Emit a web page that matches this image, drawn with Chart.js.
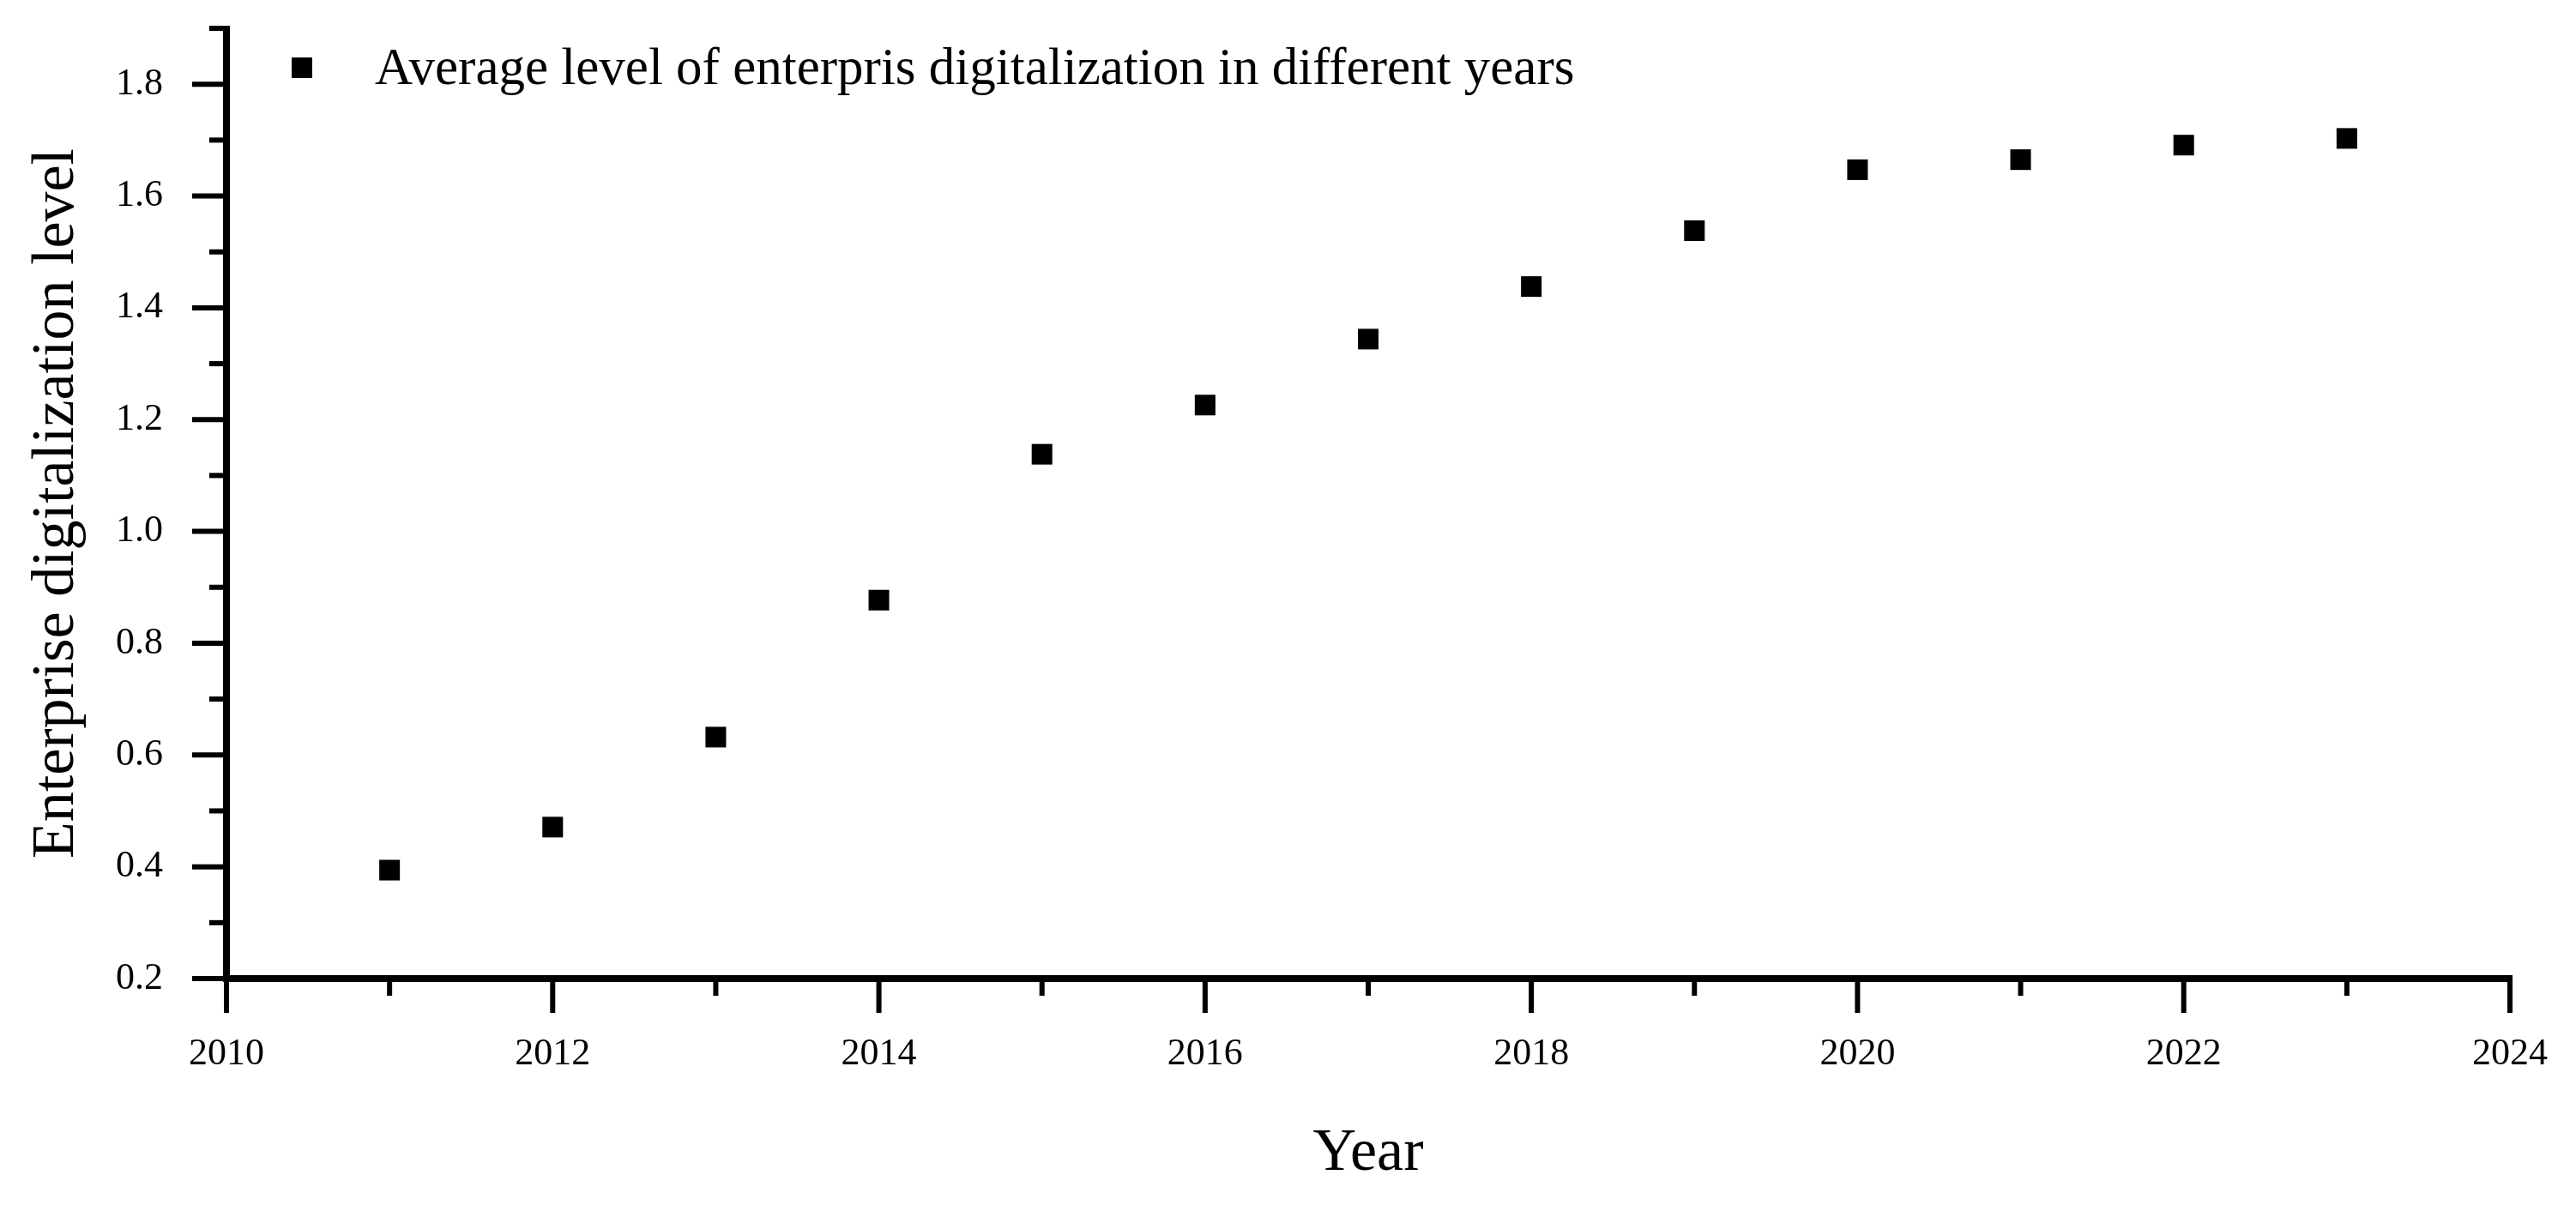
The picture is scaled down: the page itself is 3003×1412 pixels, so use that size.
<!DOCTYPE html>
<html>
<head>
<meta charset="utf-8">
<script src="https://cdn.jsdelivr.net/npm/chart.js@4/dist/chart.umd.min.js"></script>
<style>
  html, body { margin: 0; padding: 0; background: #fff; }
  #wrap { width: 3003px; height: 1412px; }
</style>
</head>
<body>
<div id="wrap"><canvas id="digital" width="3003" height="1412"></canvas></div>
<script>
const years = [2011, 2012, 2013, 2014, 2015, 2016, 2017, 2018, 2019, 2020, 2021, 2022, 2023];
const levels = [0.394, 0.471, 0.632, 0.877, 1.138, 1.226, 1.344, 1.438, 1.538, 1.647, 1.665, 1.691, 1.703];
const seriesLabel = "Average level of enterpris digitalization in different years";
const xTitle = "Year";
const yTitle = "Enterprise digitalization level";

const serif = "'Liberation Serif', 'Times New Roman', serif";

// draws the thick axis lines plus long/short tick marks
const axisPlugin = {
    id: "axisMarks",
    afterDraw(chart) {
        const ctx = chart.ctx;
        const area = chart.chartArea;
        const xs = chart.scales.x;
        const ys = chart.scales.y;
        ctx.save();
        ctx.strokeStyle = "#000";
        ctx.lineCap = "butt";

        ctx.lineWidth = 6;
        xs.ticks.forEach(t => {
            const px = xs.getPixelForValue(t.value);
            const len = Math.round(t.value) % 2 === 0 ? 40 : 20;
            ctx.beginPath();
            ctx.moveTo(px, area.bottom);
            ctx.lineTo(px, area.bottom + len);
            ctx.stroke();
        });
        ys.ticks.forEach(t => {
            const py = ys.getPixelForValue(t.value);
            const len = Math.round(t.value * 10) % 2 === 0 ? 40 : 20;
            ctx.beginPath();
            ctx.moveTo(area.left, py);
            ctx.lineTo(area.left - len, py);
            ctx.stroke();
        });

        ctx.lineWidth = 8;
        ctx.beginPath();
        ctx.moveTo(area.left, area.top - 3);
        ctx.lineTo(area.left, area.bottom + 4);
        ctx.moveTo(area.left - 4, area.bottom);
        ctx.lineTo(area.right + 3, area.bottom);
        ctx.stroke();

        // legend inside the plot
        const ds = chart.data.datasets[0];
        const lx = area.left + 88;
        const ly = area.top + 46;
        ctx.fillStyle = "#000";
        ctx.fillRect(lx - 12, ly - 12, 24, 24);
        ctx.font = "61px " + serif;
        ctx.textBaseline = "middle";
        ctx.textAlign = "left";
        ctx.fillText(ds.label, lx + 85, ly + 3);
        ctx.restore();
    }
};

new Chart(document.getElementById("digital"), {
    type: "scatter",
    data: {
        datasets: [{
            label: seriesLabel,
            data: years.map((y, i) => ({ x: y, y: levels[i] })),
            pointStyle: "rect",
            pointRadius: 17,
            pointHoverRadius: 17,
            backgroundColor: "#000",
            borderColor: "#000",
            borderWidth: 0
        }]
    },
    options: {
        responsive: false,
        devicePixelRatio: 1,
        animation: false,
        layout: { padding: { top: 0, right: 77, bottom: 0, left: 0 } },
        plugins: {
            legend: { display: false },
            tooltip: { enabled: false }
        },
        scales: {
            x: {
                type: "linear",
                min: 2010,
                max: 2024,
                afterFit: s => { s.height = 271; },
                grid: { display: true, drawOnChartArea: false, tickLength: 40, tickColor: "transparent" },
                border: { display: false },
                ticks: {
                    stepSize: 1,
                    autoSkip: false,
                    maxRotation: 0,
                    padding: 22,
                    color: "#000",
                    font: { family: serif, size: 44 },
                    callback: v => (Math.round(v) % 2 === 0 ? String(Math.round(v)) : "")
                },
                title: {
                    display: true,
                    text: xTitle,
                    color: "#000",
                    font: { family: serif, size: 70 },
                    padding: { top: 0, bottom: 24 }
                }
            },
            y: {
                min: 0.2,
                max: 1.9,
                afterFit: s => { s.width = 264; s.paddingTop = 33; },
                grid: { display: true, drawOnChartArea: false, tickLength: 40, tickColor: "transparent" },
                border: { display: false },
                ticks: {
                    stepSize: 0.1,
                    padding: 34,
                    color: "#000",
                    font: { family: serif, size: 44 },
                    callback: v => {
                        const n = Math.round(v * 10);
                        return n % 2 === 0 ? (n / 10).toFixed(1) : "";
                    }
                },
                title: {
                    display: true,
                    text: yTitle,
                    color: "#000",
                    font: { family: serif, size: 70 },
                    padding: { top: 25, bottom: 0 }
                }
            }
        }
    },
    plugins: [axisPlugin]
});
</script>
</body>
</html>
